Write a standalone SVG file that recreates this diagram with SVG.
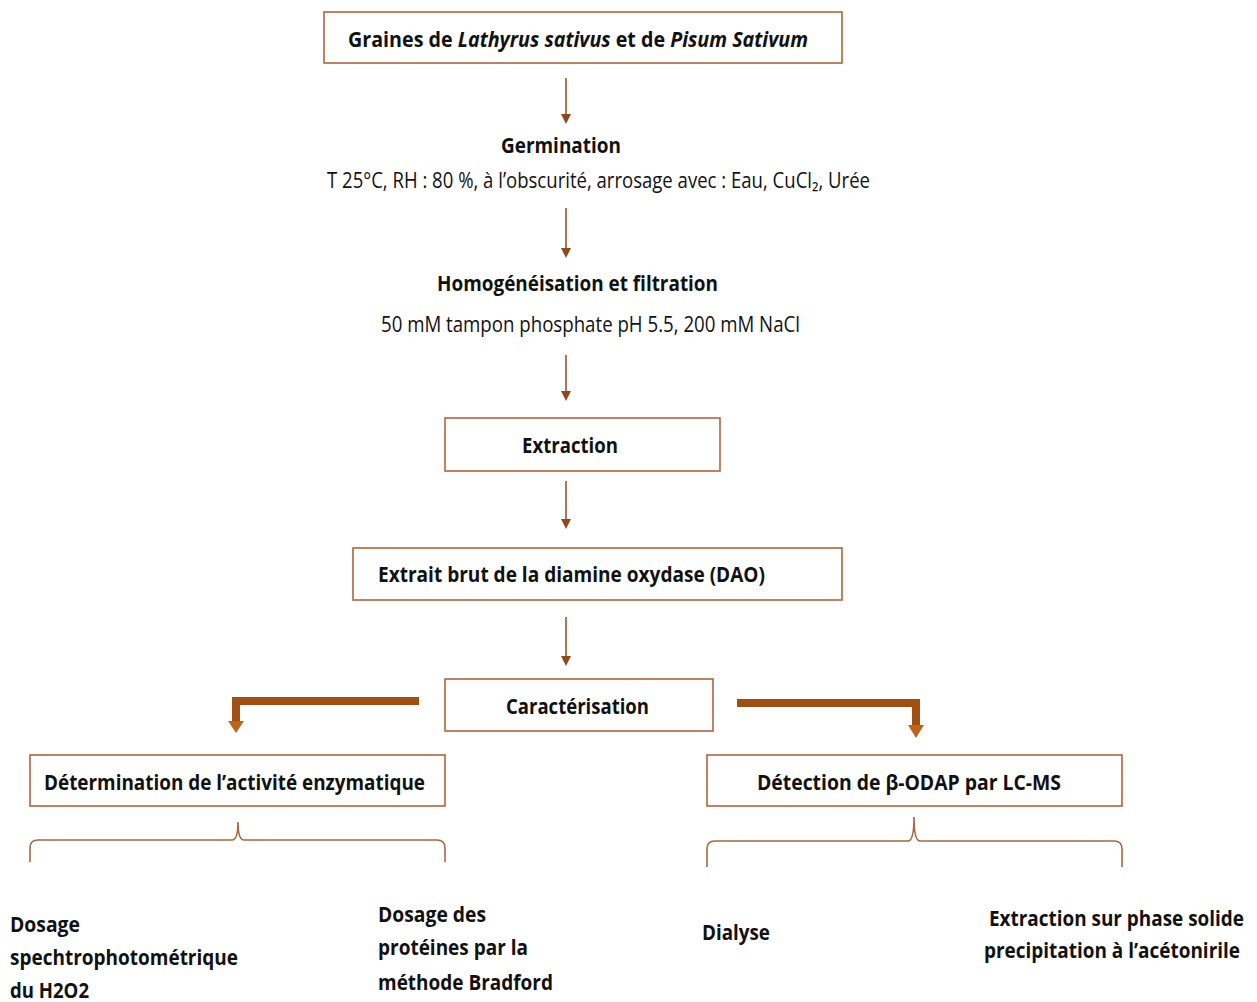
<svg xmlns="http://www.w3.org/2000/svg" width="1257" height="1002" viewBox="0 0 1257 1002">
<style>
.box{fill:#fff;stroke:#b0653a;stroke-width:1.6}
.t{font-family:"Open Sans","Liberation Sans",sans-serif;font-size:21px;fill:#111}
.b{font-weight:bold}
.ln{stroke:#8f4a1c;stroke-width:1.5;fill:none}
.br{stroke:#a8673e;stroke-width:1.6;fill:none}
.thick{stroke:#a04e12;stroke-width:8;fill:none}
</style>
<defs>
<marker id="ah" markerWidth="10" markerHeight="10" refX="5" refY="5" orient="auto" markerUnits="userSpaceOnUse">
<path d="M0,0 L10,5 L0,10 z" fill="#8f4a1c"/>
</marker>
</defs>
<rect width="1257" height="1002" fill="#fff"/>
<g id="connectors">
<line class="ln" x1="566" y1="78" x2="566" y2="119" marker-end="url(#ah)"/>
<line class="ln" x1="566" y1="208" x2="566" y2="253" marker-end="url(#ah)"/>
<line class="ln" x1="566" y1="355" x2="566" y2="396" marker-end="url(#ah)"/>
<line class="ln" x1="566" y1="481" x2="566" y2="524" marker-end="url(#ah)"/>
<line class="ln" x1="566" y1="617" x2="566" y2="661" marker-end="url(#ah)"/>
<path class="thick" d="M419,701 H236 V722"/>
<path d="M228,721 L244,721 L236,733 z" fill="#c0621a"/>
<path class="thick" d="M737,703 H916 V726"/>
<path d="M908,725 L924,725 L916,738 z" fill="#c0621a"/>
<path class="br" d="M30,862 V848 Q30,840 38,840 H232 Q238,840 238,822 Q238,840 244,840 H437 Q445,840 445,848 V862"/>
<path class="br" d="M707,867 V849 Q707,841 715,841 H908 Q914,841 914,817 Q914,841 920,841 H1114 Q1122,841 1122,849 V867"/>
</g>
<g id="n1">
<rect class="box" x="324" y="12" width="518" height="51"/>
<text class="t b" x="348" y="47" font-size="20" textLength="460" lengthAdjust="spacingAndGlyphs">Graines de <tspan font-style="italic">Lathyrus sativus</tspan> et de <tspan font-style="italic">Pisum Sativum</tspan></text>
</g>
<g id="n2">
<text class="t b" x="501" y="153" textLength="120" lengthAdjust="spacingAndGlyphs">Germination</text>
<text class="t" x="327" y="188" textLength="543" lengthAdjust="spacingAndGlyphs">T 25°C, RH : 80 %, à l’obscurité, arrosage avec : Eau, CuCl₂, Urée</text>
</g>
<g id="n3">
<text class="t b" x="437" y="291" textLength="281" lengthAdjust="spacingAndGlyphs">Homogénéisation et filtration</text>
<text class="t" x="381" y="332" textLength="419" lengthAdjust="spacingAndGlyphs">50 mM tampon phosphate pH 5.5, 200  mM NaCl</text>
</g>
<g id="n4">
<rect class="box" x="445" y="418" width="275" height="53"/>
<text class="t b" x="522" y="453" textLength="96" lengthAdjust="spacingAndGlyphs">Extraction</text>
</g>
<g id="n5">
<rect class="box" x="353" y="548" width="489" height="52"/>
<text class="t b" x="378" y="582" textLength="387" lengthAdjust="spacingAndGlyphs">Extrait brut de la diamine oxydase (DAO)</text>
</g>
<g id="n6">
<rect class="box" x="445" y="679" width="268" height="52"/>
<text class="t b" x="506" y="714" textLength="143" lengthAdjust="spacingAndGlyphs">Caractérisation</text>
</g>
<g id="n7">
<rect class="box" x="30" y="755" width="415" height="51"/>
<text class="t b" x="44" y="790" textLength="381" lengthAdjust="spacingAndGlyphs">Détermination de l’activité enzymatique</text>
</g>
<g id="n8">
<rect class="box" x="707" y="755" width="415" height="51"/>
<text class="t b" x="757" y="790" textLength="304" lengthAdjust="spacingAndGlyphs">Détection de β-ODAP par LC-MS</text>
</g>
<g id="n9">
<text class="t b" x="10" y="932" textLength="70" lengthAdjust="spacingAndGlyphs">Dosage</text>
<text class="t b" x="10" y="965" textLength="228" lengthAdjust="spacingAndGlyphs">spechtrophotométrique</text>
<text class="t b" x="10" y="998" textLength="79" lengthAdjust="spacingAndGlyphs">du H2O2</text>
</g>
<g id="n10">
<text class="t b" x="378" y="922" textLength="108" lengthAdjust="spacingAndGlyphs">Dosage des</text>
<text class="t b" x="378" y="955" textLength="150" lengthAdjust="spacingAndGlyphs">protéines par la</text>
<text class="t b" x="378" y="990" textLength="175" lengthAdjust="spacingAndGlyphs">méthode Bradford</text>
</g>
<g id="n11">
<text class="t b" x="702" y="940" textLength="68" lengthAdjust="spacingAndGlyphs">Dialyse</text>
</g>
<g id="n12">
<text class="t b" x="989" y="926" font-size="19" textLength="255" lengthAdjust="spacingAndGlyphs">Extraction sur phase solide</text>
<text class="t b" x="984" y="958" font-size="19" textLength="256" lengthAdjust="spacingAndGlyphs">precipitation à l’acétonirile</text>
</g>
</svg>
